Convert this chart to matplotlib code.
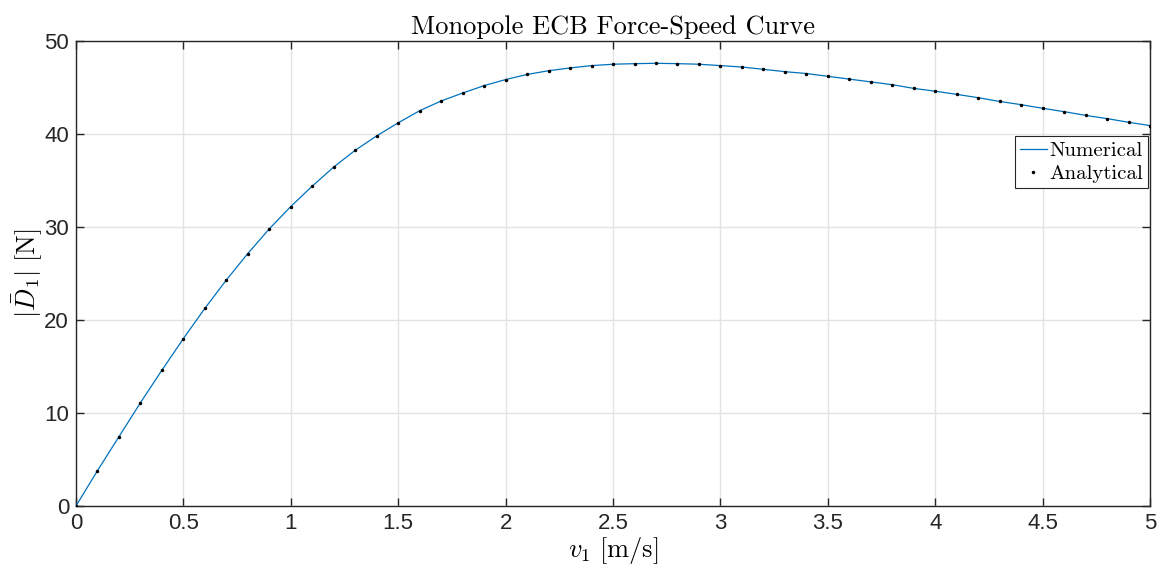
import numpy as np
import matplotlib.pyplot as plt

# speed samples [m/s] and braking force [N]
speed = np.round(np.arange(0, 5.01, 0.1), 1)
force = [0.0, 3.8, 7.45, 11.1, 14.6, 18.0, 21.25, 24.3, 27.15, 29.8,
         32.2, 34.4, 36.45, 38.25, 39.8, 41.2, 42.5, 43.55, 44.4, 45.2,
         45.85, 46.4, 46.8, 47.1, 47.35, 47.5, 47.56, 47.6, 47.56, 47.5,
         47.35, 47.2, 46.95, 46.7, 46.5, 46.2, 45.9, 45.6, 45.3, 44.9,
         44.6, 44.26, 43.9, 43.5, 43.15, 42.76, 42.4, 42.0, 41.65, 41.26,
         40.9]

x_ticks = np.arange(0, 5.01, 0.5)
x_ticklabels = ['0', '0.5', '1', '1.5', '2', '2.5', '3', '3.5', '4', '4.5', '5']
y_ticks = np.arange(0, 51, 10)

plt.rcParams['mathtext.fontset'] = 'cm'
plt.rcParams['axes.unicode_minus'] = False
serif = ['cmr10', 'DejaVu Serif']
axis_col = '#262626'

fig = plt.figure(figsize=(11.65, 5.77), dpi=100)
ax = fig.add_axes([0.0652, 0.123, 0.922, 0.806])

ax.plot(speed, force, color='#0072BD', linewidth=0.9, label='Numerical', zorder=3)
ax.plot(speed, force, linestyle='none', marker='.', markersize=3,
        color='black', label='Analytical', zorder=4)

ax.set_xlim(0, 5)
ax.set_ylim(0, 50)
ax.set_xticks(x_ticks)
ax.set_xticklabels(x_ticklabels)
ax.set_yticks(y_ticks)

ax.grid(True, color='#e3e3e3', linewidth=1.0)
ax.set_axisbelow(True)
ax.tick_params(direction='in', top=True, right=True, length=6, width=1,
               labelsize=16, colors=axis_col, pad=5)
for lab in ax.get_xticklabels() + ax.get_yticklabels():
    lab.set_family(['Liberation Sans', 'DejaVu Sans'])
for sp in ax.spines.values():
    sp.set_color(axis_col)
    sp.set_linewidth(1.0)

ax.set_title('Monopole ECB Force-Speed Curve', fontsize=19, family=serif, pad=5)
ax.set_xlabel(r'$v_1\ [\mathrm{m/s}]$', fontsize=19, labelpad=1)
ax.set_ylabel(r'$|\bar{D}_1|\ [\mathrm{N}]$', fontsize=19, labelpad=0)

leg = ax.legend(loc='upper right', bbox_to_anchor=(0.998, 0.795),
                prop={'family': serif, 'size': 15}, fancybox=False,
                framealpha=1, edgecolor=axis_col, handlelength=1.3,
                handletextpad=0.1, borderpad=0.25, labelspacing=0.2,
                borderaxespad=0)
leg.get_frame().set_linewidth(0.8)

fig.savefig('out.png', dpi=100)
